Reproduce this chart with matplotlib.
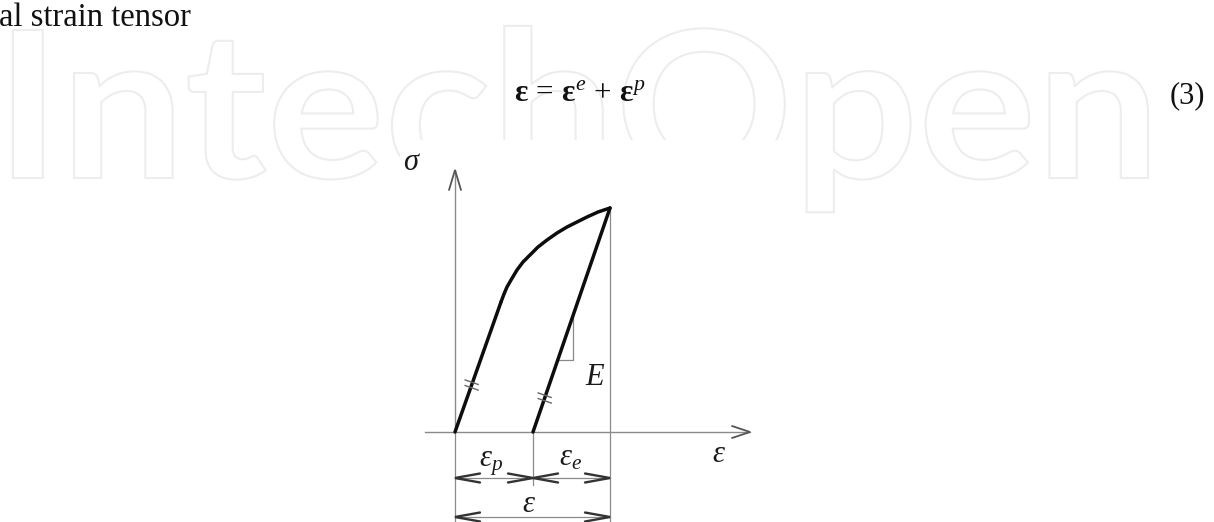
import matplotlib
matplotlib.use("Agg")
import numpy as np
import matplotlib.pyplot as plt
from matplotlib.textpath import TextPath
from matplotlib.font_manager import FontProperties
from matplotlib.patches import PathPatch
from matplotlib.transforms import Affine2D

plt.rcParams['mathtext.fontset'] = 'custom'
plt.rcParams['mathtext.rm'] = 'Liberation Serif'
plt.rcParams['mathtext.it'] = 'Liberation Serif:italic'
plt.rcParams['mathtext.bf'] = 'Liberation Serif:bold'

# ---------------- data (diagram units: strain right, stress up) ----------------
load_strain = [0, 46]                # initial elastic loading
load_stress = [0, 130]
harden_strain = [46, 49, 52, 56, 62, 68, 75, 83, 92, 102, 112, 122, 132, 143, 155]
harden_stress = [130, 138, 145, 152, 162, 170, 177, 185, 192, 199, 205, 210, 215, 220, 224]
eps_p = 78                           # plastic (residual) strain
eps_total = 155                      # total strain at peak
peak_stress = 224
unload_strain = [eps_p, eps_total]   # elastic unloading line
unload_stress = [0, peak_stress]

page_text = "al strain tensor"
equation = r"$\mathbf{ε}\,=\,\mathbf{ε}^{e}\,+\,\mathbf{ε}^{p}$"
eq_number = "(3)"
watermark = "IntechOpen"
label_sigma = r"$σ$"
label_eps_axis = r"$ε$"
label_eps_p = r"$ε_p$"
label_eps_e = r"$ε_e$"
label_eps = r"$ε$"
label_E = r"$E$"

# ---------------- figure ----------------
W, H = 1214, 522
fig = plt.figure(figsize=(W / 100, H / 100), dpi=100)
ax = fig.add_axes([0, 0, 1, 1])
ax.set_xlim(0, W)
ax.set_ylim(H, 0)
ax.axis('off')

# watermark (outlined letters)
fp = FontProperties(family='Lato', weight='bold')
tp = TextPath((0, 0), watermark, size=100, prop=fp)
ext = tp.get_extents()
capI = TextPath((0, 0), "I", size=100, prop=fp).get_extents()
wm_left, wm_right, wm_base, wm_top = 13, 1148, 178, 30
sx = (wm_right - wm_left) / ext.width
sy = (wm_base - wm_top) / capI.height
trans = Affine2D().translate(-ext.x0, 0).scale(sx, -sy).translate(wm_left, wm_base)
wm_path = trans.transform_path(tp)
ax.add_patch(PathPatch(wm_path, facecolor='white', edgecolor='#ededed', lw=1.5, zorder=0))

txt_font = 'Liberation Serif'
ax.text(-1, 26, page_text, family=txt_font, fontsize=23.5, ha='left', va='baseline', color='#111')
ax.text(514, 101, equation, fontsize=22.5, ha='left', va='baseline', color='#111')
ax.text(1170, 103, eq_number, family=txt_font, fontsize=22, ha='left', va='baseline', color='#111')

# ---------------- diagram axes (1 unit = 1 px) ----------------
ax2 = fig.add_axes([400 / W, 0, 385 / W, 382 / H])
ax2.set_xlim(-55, 330)
ax2.set_ylim(-90, 292)
ax2.set_xticks([]); ax2.set_yticks([])
for s in ax2.spines.values():
    s.set_visible(False)
ax2.set_facecolor('white')

axis_c = '#8a8a8a'
head_c = '#333333'
thin = 0.9

def chevron(tip, direction, length, half, color=head_c, lw=1.7):
    d = np.array(direction, float); d /= np.hypot(*d)
    n = np.array([-d[1], d[0]])
    tip = np.array(tip, float)
    a = tip - d * length + n * half
    b = tip - d * length - n * half
    ax2.plot([a[0], tip[0], b[0]], [a[1], tip[1], b[1]], color=color, lw=lw,
             solid_capstyle='round', solid_joinstyle='miter', zorder=4)

# coordinate axes
ax2.plot([-30, 295], [0, 0], color=axis_c, lw=1.0, zorder=2)
ax2.plot([0, 0], [0, 262], color=axis_c, lw=1.0, zorder=2)
chevron((295, 0), (1, 0), 18, 6, color='#555', lw=1.3)
chevron((0, 262), (0, 1), 20, 6, color='#555', lw=1.3)

# extension lines
ax2.plot([0, 0], [0, -90], color=axis_c, lw=thin, zorder=2)
ax2.plot([eps_p, eps_p], [0, -53], color=axis_c, lw=thin, zorder=2)
ax2.plot([eps_total, eps_total], [peak_stress, -90], color=axis_c, lw=thin, zorder=2)

# dimension lines
row1, row2 = -46, -85
for x0, x1, y in [(0, eps_p, row1), (eps_p, eps_total, row1), (0, eps_total, row2)]:
    ax2.plot([x0, x1], [y, y], color=axis_c, lw=thin, zorder=2)
    chevron((x0, y), (-1, 0), 25, 4.5)
    chevron((x1, y), (1, 0), 25, 4.5)

# stress-strain path
curve_c = '#0d0d0d'
ax2.plot(load_strain, load_stress, color=curve_c, lw=2.5, solid_capstyle='round', zorder=5)
ax2.plot(harden_strain, harden_stress, color=curve_c, lw=2.5, solid_capstyle='round',
         solid_joinstyle='round', zorder=5)
ax2.plot(unload_strain, unload_stress, color=curve_c, lw=2.5, solid_capstyle='round', zorder=5)

# slope triangle for E
slope = peak_stress / (eps_total - eps_p)
tri_y, tri_x = 72, 118
ax2.plot([eps_p + tri_y / slope, tri_x, tri_x], [tri_y, tri_y, slope * (tri_x - eps_p)],
         color=axis_c, lw=thin, zorder=3)

# parallel marks on both elastic lines
def hashmark(x0, k, y):
    x = x0 + y / k
    for off in (-2.8, 2.8):
        dx = np.array([-6.5, 6.5])
        ax2.plot(x + dx, y + off - 0.35 * dx, color='#666', lw=1.0, zorder=6)

hashmark(0, load_stress[1] / load_strain[1], 47)
hashmark(eps_p, slope, 34)

# labels
lab = dict(fontsize=22, ha='left', va='baseline', color='#1a1a1a', zorder=7)
ax2.text(-52, 262, label_sigma, **lab)
ax2.text(257, -30, label_eps_axis, **lab)
ax2.text(24, -35, label_eps_p, **lab)
ax2.text(104, -34, label_eps_e, **lab)
ax2.text(67, -80, label_eps, **lab)
ax2.text(130, 47, label_E, **lab)

fig.savefig("out.png", dpi=100)
